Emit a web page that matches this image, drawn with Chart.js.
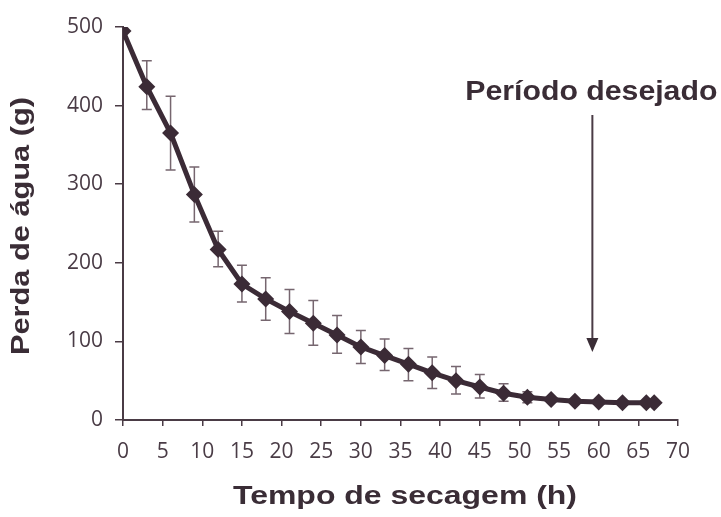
<!DOCTYPE html>
<html>
<head>
<meta charset="utf-8">
<script src="https://cdn.jsdelivr.net/npm/chart.js@4"></script>
<style>
  body { margin: 0; background: #fff; }
  #wrap { width: 721px; height: 517px; }
</style>
</head>
<body>
<div id="wrap"><canvas id="myChart" width="721" height="517"></canvas></div>
<script>
// drying time (h) and water loss (g)
const hours = [0, 3, 6, 9, 12, 15, 18, 21, 24, 27, 30, 33, 36, 39, 42, 45, 48, 51, 54, 57, 60, 63, 66, 67];
const waterLoss = [495, 424, 365, 287, 217, 173, 154, 138, 123, 108, 93, 82, 71, 60, 50, 42, 34, 29, 26, 24, 23, 22, 22, 22];
// error bar limits (null = no bar)
const errUpper = [null, 457, 412, 322, 240, 197, 181, 166, 152, 133, 114, 103, 91, 80, 68, 58, 46, 36, null, null, null, null, null, null];
const errLower = [null, 395, 318, 252, 195, 150, 127, 110, 95, 85, 72, 63, 50, 40, 33, 28, 24, 22, null, null, null, null, null, null];
const xTicks = [0, 5, 10, 15, 20, 25, 30, 35, 40, 45, 50, 55, 60, 65, 70];
const yTicks = [0, 100, 200, 300, 400, 500];

const xTitle = 'Tempo de secagem (h)';
const yTitle = 'Perda de água (g)';
const noteText = 'Período desejado';
const noteHour = 59.2;

const inkColor = '#3b2b36';
const axisColor = '#4a3b45';
const labelColor = '#4a3c46';
const errColor = '#76666f';
const titleFont = '"Liberation Sans", Arial, sans-serif';

// draws text centred at (x, y), stretched to a given width
function wideText(ctx, text, x, y, size, width, angle) {
    ctx.save();
    ctx.font = `bold ${size}px ${titleFont}`;
    const w = ctx.measureText(text).width;
    ctx.translate(x, y);
    if (angle) ctx.rotate(angle);
    ctx.scale(width / w, 1);
    ctx.textAlign = 'center';
    ctx.textBaseline = 'middle';
    ctx.fillText(text, 0, 0);
    ctx.restore();
}

// error bars behind the line
const errorBars = {
    id: 'errorBars',
    beforeDatasetsDraw(chart) {
        const ctx = chart.ctx;
        const xs = chart.scales.x;
        const ys = chart.scales.y;
        ctx.save();
        ctx.strokeStyle = errColor;
        ctx.lineWidth = 1.5;
        hours.forEach((h, i) => {
            if (errUpper[i] == null) return;
            const px = xs.getPixelForValue(h);
            const top = ys.getPixelForValue(errUpper[i]);
            const bot = ys.getPixelForValue(errLower[i]);
            ctx.beginPath();
            ctx.moveTo(px, top); ctx.lineTo(px, bot);
            ctx.moveTo(px - 5, top); ctx.lineTo(px + 5, top);
            ctx.moveTo(px - 5, bot); ctx.lineTo(px + 5, bot);
            ctx.stroke();
        });
        ctx.restore();
    }
};

// axis titles and the annotation arrow
const extras = {
    id: 'extras',
    afterDraw(chart) {
        const ctx = chart.ctx;
        const xs = chart.scales.x;
        ctx.save();
        ctx.fillStyle = '#3a2d36';
        wideText(ctx, xTitle, 405, 497, 26, 344);
        wideText(ctx, yTitle, 22, 226, 26, 258, -Math.PI / 2);

        const ax = xs.getPixelForValue(noteHour);
        wideText(ctx, noteText, ax - 1, 93, 27, 252);
        ctx.strokeStyle = '#4a3b45';
        ctx.lineWidth = 2;
        ctx.beginPath();
        ctx.moveTo(ax, 115);
        ctx.lineTo(ax, 340);
        ctx.stroke();
        ctx.fillStyle = '#3a2d36';
        ctx.beginPath();
        ctx.moveTo(ax - 6, 338);
        ctx.lineTo(ax + 6, 338);
        ctx.lineTo(ax, 352);
        ctx.closePath();
        ctx.fill();
        ctx.restore();
    }
};

const ctx = document.getElementById('myChart').getContext('2d');
new Chart(ctx, {
    type: 'line',
    data: {
        datasets: [{
            data: hours.map((h, i) => ({ x: h, y: waterLoss[i] })),
            borderColor: inkColor,
            backgroundColor: inkColor,
            borderWidth: 5,
            pointStyle: 'rectRot',
            pointRadius: 8.5,
            pointBorderWidth: 0,
            tension: 0
        }]
    },
    options: {
        responsive: false,
        animation: false,
        layout: { padding: { left: 0, right: 43, top: 27, bottom: 0 } },
        plugins: { legend: { display: false }, tooltip: { enabled: false } },
        scales: {
            x: {
                type: 'linear',
                min: 0,
                max: 70,
                afterFit(scale) { scale.height = 97; },
                afterBuildTicks(scale) { scale.ticks = xTicks.map(v => ({ value: v })); },
                border: { color: axisColor, width: 2 },
                grid: { drawOnChartArea: false, drawTicks: true, tickLength: 6, color: axisColor, lineWidth: 1.5 },
                ticks: {
                    color: labelColor,
                    padding: 13,
                    maxRotation: 0,
                    font: { family: '"Open Sans", sans-serif', size: 21 }
                }
            },
            y: {
                min: 0,
                max: 500,
                afterFit(scale) { scale.width = 123; },
                afterBuildTicks(scale) { scale.ticks = yTicks.map(v => ({ value: v })); },
                border: { color: axisColor, width: 2 },
                grid: { drawOnChartArea: false, drawTicks: true, tickLength: 8, color: axisColor, lineWidth: 1.5 },
                ticks: {
                    color: labelColor,
                    padding: 12,
                    font: { family: '"Open Sans", sans-serif', size: 21 }
                }
            }
        }
    },
    plugins: [errorBars, extras]
});
</script>
</body>
</html>
